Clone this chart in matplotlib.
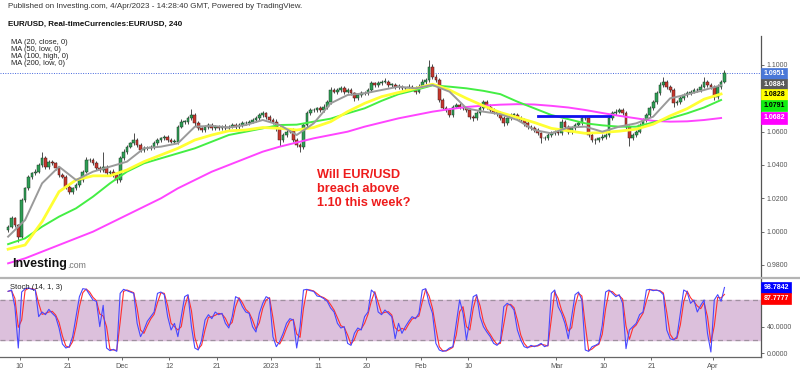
import matplotlib
matplotlib.use("Agg")
import matplotlib.pyplot as plt
from matplotlib.lines import Line2D
import numpy as np
import pandas as pd

plt.rcParams["font.family"] = ["Liberation Sans", "DejaVu Sans"]

# first trading day shown, candles are half-day buckets on business days
START = "2022-11-08"
first_open = 1.001

closes = [
    1.003, 1.008, 1.004, 0.997, 1.019, 1.026, 1.033, 1.035, 1.036, 1.040,
    1.044, 1.039, 1.042, 1.041, 1.038, 1.034, 1.033, 1.027, 1.024, 1.026,
    1.028, 1.031, 1.036, 1.043, 1.043, 1.041, 1.038, 1.037, 1.039, 1.035,
    1.036, 1.034, 1.031, 1.044, 1.048, 1.051, 1.053, 1.055, 1.052, 1.049,
    1.050, 1.050, 1.051, 1.053, 1.055, 1.056, 1.057, 1.055, 1.054, 1.054,
    1.063, 1.066, 1.066, 1.068, 1.070, 1.065, 1.062, 1.061, 1.063, 1.064,
    1.062, 1.063, 1.062, 1.063, 1.062, 1.063, 1.064, 1.063, 1.064, 1.065,
    1.065, 1.066, 1.067, 1.068, 1.070, 1.071, 1.069, 1.067, 1.066, 1.062,
    1.055, 1.058, 1.060, 1.061, 1.055, 1.052, 1.051, 1.064, 1.071, 1.073,
    1.073, 1.074, 1.073, 1.075, 1.078, 1.085, 1.084, 1.085, 1.086, 1.084,
    1.085, 1.083, 1.080, 1.082, 1.083, 1.083, 1.085, 1.089, 1.088, 1.089,
    1.090, 1.090, 1.088, 1.088, 1.087, 1.087, 1.086, 1.086, 1.087, 1.086,
    1.084, 1.087, 1.090, 1.091, 1.099, 1.093, 1.091, 1.079, 1.074, 1.073,
    1.070, 1.075, 1.076, 1.075, 1.074, 1.073, 1.069, 1.068, 1.071, 1.074,
    1.078, 1.075, 1.073, 1.072, 1.071, 1.068, 1.065, 1.068, 1.070, 1.070,
    1.068, 1.067, 1.065, 1.063, 1.062, 1.061, 1.059, 1.056, 1.056, 1.058,
    1.059, 1.060, 1.059, 1.066, 1.063, 1.060, 1.062, 1.064, 1.065, 1.068,
    1.068, 1.058, 1.055, 1.055, 1.056, 1.057, 1.058, 1.068, 1.071, 1.072,
    1.073, 1.071, 1.063, 1.056, 1.058, 1.060, 1.064, 1.067, 1.070, 1.074,
    1.078, 1.083, 1.088, 1.090, 1.087, 1.085, 1.077, 1.078, 1.080, 1.082,
    1.083, 1.084, 1.085, 1.085, 1.087, 1.090, 1.088, 1.087, 1.081, 1.087,
    1.090, 1.095,
]

# wick lengths in pips beyond the candle body
up_wick = [
    12, 15, 10, 8, 14, 10, 12, 9, 15, 12, 40, 14, 10, 12, 9, 11, 13, 10, 12, 9,
    11, 14, 10, 16, 12, 10, 13, 11, 90, 12, 10, 14, 9, 12, 15, 11, 10, 40, 12, 10,
    13, 11, 10, 12, 14, 10, 10, 12, 11, 13, 12, 15, 10, 14, 35, 12, 11, 10, 12, 14,
    10, 12, 11, 9, 13, 10, 12, 11, 10, 13, 12, 10, 14, 11, 12, 16, 10, 12, 11, 13,
    14, 12, 15, 11, 10, 12, 10, 14, 12, 11, 13, 10, 12, 14, 11, 18, 12, 14, 15, 11,
    12, 13, 10, 12, 11, 14, 12, 15, 10, 13, 12, 20, 11, 10, 12, 13, 11, 10, 14, 12,
    11, 13, 14, 12, 40, 18, 14, 12, 10, 11, 13, 12, 11, 10, 12, 13, 11, 10, 12, 14,
    12, 11, 13, 10, 12, 11, 13, 10, 12, 11, 10, 12, 11, 13, 10, 12, 11, 10, 12, 14,
    11, 12, 13, 15, 11, 10, 12, 11, 13, 14, 12, 10, 11, 12, 10, 13, 11, 15, 12, 14,
    12, 11, 14, 10, 12, 11, 13, 12, 14, 11, 12, 14, 16, 30, 12, 11, 10, 12, 11, 13,
    12, 11, 13, 12, 14, 25, 12, 11, 10, 14, 12, 20,
]
down_wick = [
    12, 10, 13, 35, 12, 11, 10, 13, 12, 10, 11, 13, 12, 10, 11, 12, 10, 13, 17, 12,
    10, 12, 11, 10, 13, 12, 11, 10, 12, 13, 11, 12, 20, 10, 12, 11, 10, 12, 13, 11,
    12, 10, 11, 12, 10, 11, 12, 13, 10, 12, 11, 10, 12, 11, 10, 13, 12, 11, 10, 12,
    11, 12, 10, 12, 11, 13, 10, 12, 11, 10, 12, 11, 10, 12, 11, 10, 12, 11, 13, 14,
    35, 12, 11, 10, 14, 12, 30, 12, 11, 10, 12, 11, 13, 10, 12, 11, 10, 12, 11, 13,
    11, 12, 14, 10, 12, 11, 10, 12, 11, 10, 12, 11, 13, 10, 12, 11, 12, 10, 11, 12,
    15, 11, 10, 12, 11, 12, 10, 14, 12, 13, 15, 11, 10, 12, 11, 12, 13, 15, 11, 10,
    12, 11, 10, 12, 13, 11, 14, 12, 10, 11, 12, 11, 13, 12, 10, 12, 11, 28, 12, 11,
    10, 12, 11, 10, 12, 13, 11, 10, 12, 11, 12, 14, 11, 25, 12, 11, 13, 10, 12, 11,
    10, 12, 14, 45, 12, 11, 10, 12, 11, 10, 12, 11, 10, 12, 11, 13, 20, 12, 11, 10,
    12, 11, 10, 12, 11, 10, 12, 13, 20, 11, 12, 10,
]

# moving averages, read every 5th candle
ma_every = 5
ma20 = [0.997, 1.007, 1.029, 1.039, 1.031, 1.036, 1.039, 1.042, 1.050, 1.051,
        1.053, 1.063, 1.0635, 1.0625, 1.064, 1.067, 1.064, 1.058, 1.065, 1.077,
        1.082, 1.083, 1.085, 1.087, 1.086, 1.088, 1.084, 1.074, 1.072, 1.0705,
        1.067, 1.061, 1.059, 1.0625, 1.063, 1.060, 1.063, 1.065, 1.069, 1.080,
        1.0823, 1.085, 1.0878]
ma50 = [0.9895, 0.992, 1.006, 1.024, 1.031, 1.0335, 1.0335, 1.037, 1.042, 1.046,
        1.050, 1.055, 1.058, 1.0605, 1.061, 1.0625, 1.062, 1.061, 1.0625, 1.066,
        1.072, 1.077, 1.081, 1.0835, 1.086, 1.0885, 1.085, 1.080, 1.0755, 1.0715,
        1.0685, 1.0655, 1.062, 1.0605, 1.059, 1.0595, 1.0603, 1.0615, 1.0645, 1.0695,
        1.0738, 1.0795, 1.0826]
ma100 = [0.9925, 0.996, 1.003, 1.009, 1.014, 1.021, 1.029, 1.036, 1.041, 1.044,
         1.047, 1.050, 1.054, 1.058, 1.060, 1.062, 1.064, 1.0642, 1.066, 1.0678,
         1.071, 1.074, 1.0785, 1.0825, 1.085, 1.0878, 1.087, 1.086, 1.0845, 1.0825,
         1.078, 1.074, 1.070, 1.0675, 1.065, 1.0638, 1.063, 1.063, 1.0655, 1.068,
         1.071, 1.0745, 1.079]
ma200 = [0.981, 0.984, 0.988, 0.992, 0.996, 1.000, 1.005, 1.010, 1.015, 1.020,
         1.026, 1.031, 1.036, 1.040, 1.044, 1.048, 1.051, 1.0535, 1.056, 1.058,
         1.060, 1.063, 1.0655, 1.068, 1.070, 1.072, 1.0735, 1.0748, 1.0756, 1.0762,
         1.0765, 1.0763, 1.0755, 1.0745, 1.073, 1.0712, 1.0695, 1.068, 1.0665, 1.066,
         1.0662, 1.067, 1.0682]

# stochastic %K, one value per candle
stoch_k = [
    93, 95, 70, 8, 92, 97, 98, 96, 95, 55,
    62, 58, 66, 60, 55, 38, 14, 8, 10, 25,
    55, 85, 97, 96, 88, 80, 78, 40, 72, 8,
    4, 6, 3, 90, 96, 94, 92, 90, 45, 25,
    35, 48, 55, 62, 90, 92, 88, 55, 35, 45,
    25, 55, 85, 88, 40, 8, 5, 20, 50, 58,
    52, 62, 58, 60, 45, 38, 55, 85, 82, 70,
    62, 60, 40, 32, 60, 75, 85, 82, 25, 10,
    18, 30, 45, 52, 50, 8, 40, 95, 96, 94,
    93, 86, 85, 82, 78, 68, 62, 45, 38, 40,
    15, 12, 30, 38, 35, 55, 62, 95, 90, 62,
    58, 65, 60, 55, 22, 45, 30, 40, 48, 55,
    52, 60, 95, 97, 75, 60, 15, 5, 3, 4,
    8, 10, 45, 80, 60, 20, 50, 85, 88, 55,
    40, 32, 25, 15, 12, 18, 70, 75, 72, 65,
    35, 20, 10, 8, 12, 10, 12, 15, 10, 12,
    90, 95, 70, 60, 45, 22, 55, 88, 92, 80,
    5, 3, 10, 12, 15, 42, 92, 95, 90, 85,
    88, 75, 7, 35, 40, 45, 58, 62, 95, 96,
    94, 95, 93, 88, 35, 22, 20, 25, 60, 95,
    92, 75, 80, 62, 72, 80, 30, 2, 80, 88,
    78, 98.7842,
]
k_last = 98.7842
d_last = 87.7777

resist_level = 1.0695
resist_from = "2023-02-24 08:00"
resist_to = "2023-03-10 20:00"

tick_dates = ["2022-11-10", "2022-11-21", "2022-12-01", "2022-12-12", "2022-12-21",
              "2023-01-02", "2023-01-11", "2023-01-20", "2023-02-01", "2023-02-10",
              "2023-03-01", "2023-03-10", "2023-03-21", "2023-04-03"]
tick_labels = ["10", "21", "Dec", "12", "21", "2023", "11", "20", "Feb", "10",
               "Mar", "10", "21", "Apr"]
price_ticks = [0.98, 1.00, 1.02, 1.04, 1.06, 1.10]
stoch_ticks = [0, 40]

last_price = 1.0951
ma_names = ["MA (20, close, 0)", "MA (50, low, 0)", "MA (100, high, 0)", "MA (200, low, 0)"]
ma_last = [1.0884, 1.0828, 1.0791, 1.0682]
ma_colors = ["#9a9a9a", "#ffff33", "#44ee44", "#ff44ff"]
ma_text = ["white", "black", "black", "white"]
ma_box = ["#5a5a5a", "#ffff00", "#11ee11", "#ff00ff"]


def bday(ts):
    ts = pd.Timestamp(ts)
    return np.busday_count(START, ts.strftime("%Y-%m-%d")) + (ts.hour + ts.minute / 60) / 24


def fpos(x, y):
    # pixel position -> figure fraction
    return x / 800, 1 - y / 372


def main():
    fig = plt.figure(figsize=(8, 3.72), dpi=100)
    ax = fig.add_axes([0, 1 - 278 / 372, 761 / 800, (278 - 36) / 372])
    ax2 = fig.add_axes([0, 1 - 357 / 372, 761 / 800, (357 - 278) / 372], sharex=ax)

    # candles
    c = np.array(closes)
    o = np.concatenate([[first_open], c[:-1]])
    hi = np.maximum(o, c) + np.array(up_wick) / 1e4
    lo = np.minimum(o, c) - np.array(down_wick) / 1e4
    x = np.arange(len(c)) * 0.5 + 0.25
    up = c >= o
    ax.vlines(x, lo, hi, color="#303030", lw=0.6, zorder=2)
    ax.bar(x[up], np.maximum((c - o)[up], 0.0003), bottom=o[up], width=0.4,
           color="#2e9e55", edgecolor="#1d3d25", lw=0.35, zorder=3)
    ax.bar(x[~up], np.maximum((o - c)[~up], 0.0003), bottom=c[~up], width=0.4,
           color="#c8372d", edgecolor="#3d1d1d", lw=0.35, zorder=3)

    # moving averages
    xm = np.arange(len(ma20)) * ma_every * 0.5 + 0.25
    ax.plot(xm, ma200, color=ma_colors[3], lw=1.4, zorder=4)
    ax.plot(xm, ma100, color=ma_colors[2], lw=1.4, zorder=4)
    ax.plot(xm, ma50, color=ma_colors[1], lw=2.0, zorder=4)
    ax.plot(xm, ma20, color=ma_colors[0], lw=1.4, zorder=5)

    # resistance line
    ax.plot([bday(resist_from), bday(resist_to)], [resist_level] * 2,
            color="#1010ee", lw=2.0, zorder=6)

    # last price dotted line
    ax.axhline(last_price, color="#4466dd", lw=0.7, ls=(0, (1, 1.5)), zorder=1)

    ax.set_xlim(-0.945, 111.13)
    ax.set_ylim(0.9722, 1.1174)
    for s in ["top", "left", "bottom"]:
        ax.spines[s].set_visible(False)
    ax.spines["right"].set_color("#555555")
    ax.spines["right"].set_linewidth(0.9)
    ax.yaxis.tick_right()
    ax.set_yticks(price_ticks)
    ax.set_yticklabels([f"{v:.4f}" for v in price_ticks])
    ax.tick_params(axis="y", labelsize=5, colors="#555555", length=2, pad=2, width=0.6)
    ax.tick_params(axis="x", bottom=False, labelbottom=False)

    # value labels on the price scale, pushed down when they would overlap
    vals = [last_price] + ma_last
    boxes = ["#4a78d8"] + ma_box
    txtc = ["white"] + ma_text
    ypos = []
    for v in vals:
        if ypos and ypos[-1] - v < 0.0063:
            ypos.append(ypos[-1] - 0.0063)
        else:
            ypos.append(v)
    for v, yv, bc, tc in zip(vals, ypos, boxes, txtc):
        ax.text(1.003, yv, f"{v:.4f}", transform=ax.get_yaxis_transform(),
                fontsize=5, color=tc, weight="bold", va="center", ha="left",
                clip_on=False, zorder=10,
                bbox=dict(boxstyle="square,pad=0.3", fc=bc, ec=bc, lw=0.5))

    # stochastic panel
    k = pd.Series(stoch_k, dtype=float)
    d = k.rolling(2, min_periods=1).mean()
    ax2.axhspan(20, 80, color="#dcc0dc", zorder=0)
    ax2.axhline(80, color="#a090a0", lw=0.9, ls=(0, (4, 3)), zorder=1)
    ax2.axhline(20, color="#a090a0", lw=0.9, ls=(0, (4, 3)), zorder=1)
    ax2.plot(x, d, color="#ff3030", lw=0.8, zorder=3)
    ax2.plot(x, k, color="#4848ff", lw=0.8, zorder=4)
    ax2.set_ylim(-5.5, 113)
    for s in ["top", "left"]:
        ax2.spines[s].set_visible(False)
    ax2.spines["right"].set_color("#555555")
    ax2.spines["bottom"].set_color("#666666")
    ax2.spines["right"].set_linewidth(0.9)
    ax2.spines["bottom"].set_linewidth(0.9)
    ax2.yaxis.tick_right()
    ax2.set_yticks(stoch_ticks)
    ax2.set_yticklabels([f"{v:.4f}" for v in stoch_ticks])
    ax2.tick_params(axis="y", labelsize=5, colors="#555555", length=2, pad=2, width=0.6)
    ax2.set_xticks([bday(t) for t in tick_dates])
    ax2.set_xticklabels(tick_labels)
    ax2.tick_params(axis="x", labelsize=5.3, colors="#555555", length=2, pad=2.5, width=0.6)

    ax2.text(1.003, k_last, f"{k_last:.4f}", transform=ax2.get_yaxis_transform(),
             fontsize=5, color="white", weight="bold", va="center", ha="left",
             clip_on=False, zorder=10,
             bbox=dict(boxstyle="square,pad=0.3", fc="#0000ff", ec="#0000ff", lw=0.5))
    ax2.text(1.003, min(d_last, k_last - 17), f"{d_last:.4f}", transform=ax2.get_yaxis_transform(),
             fontsize=5, color="white", weight="bold", va="center", ha="left",
             clip_on=False, zorder=10,
             bbox=dict(boxstyle="square,pad=0.3", fc="#ff0000", ec="#ff0000", lw=0.5))
    ax2.text(10 / 761, 0.88, "Stoch (14, 1, 3)", transform=ax2.transAxes,
             fontsize=5.5, color="#222222", va="center", ha="left", zorder=6)

    # panel separator
    fig.add_artist(Line2D([0, 1], [1 - 278 / 372] * 2, color="#b4b4b4", lw=1.6))

    # header texts
    fig.text(*fpos(8, 7), "Published on Investing.com, 4/Apr/2023 - 14:28:40 GMT, Powered by TradingView.",
             fontsize=5.8, color="#333333", va="center")
    fig.text(*fpos(8, 24), "EUR/USD, Real-timeCurrencies:EUR/USD, 240",
             fontsize=5.8, weight="bold", color="#111111", va="center")
    for i, name in enumerate(ma_names):
        fig.text(*fpos(11, 42.7 + 7 * i), name, fontsize=5.4, color="#222222", va="center")

    # watermark
    fig.text(*fpos(12, 264), "Investing", fontsize=9, weight="bold", color="#111111", va="center")
    fig.text(*fpos(67, 265), ".com", fontsize=6.3, color="#777777", va="center")

    # annotation
    fig.text(*fpos(317, 169), "Will EUR/USD\nbreach above\n1.10 this week?",
             fontsize=9.2, weight="bold", color="#ee1c1c", va="top", ha="left", linespacing=1.2)

    fig.savefig("out.png", dpi=100)


if __name__ == "__main__":
    main()
